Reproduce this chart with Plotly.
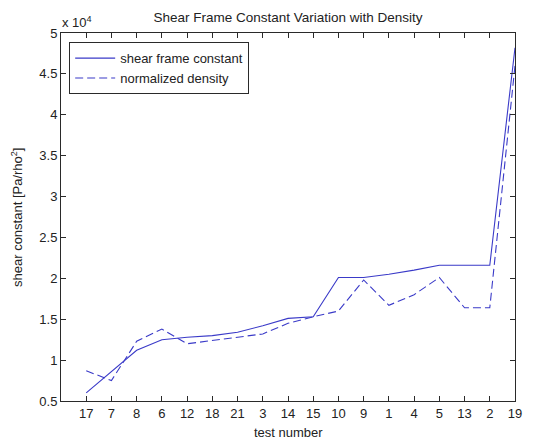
import plotly.graph_objects as go

tests = ["17", "7", "8", "6", "12", "18", "21", "3", "14", "15",
         "10", "9", "1", "4", "5", "13", "2", "19"]
shear_frame_constant = [0.60, 0.86, 1.12, 1.25, 1.28, 1.30, 1.34, 1.42, 1.51, 1.53,
                        2.01, 2.01, 2.05, 2.10, 2.16, 2.16, 2.16, 4.82]
normalized_density = [0.87, 0.75, 1.23, 1.38, 1.20, 1.24, 1.28, 1.32, 1.45, 1.53,
                      1.60, 1.98, 1.67, 1.80, 2.01, 1.64, 1.64, 4.60]
scale = 1e4
y_ticks = [0.5, 1, 1.5, 2, 2.5, 3, 3.5, 4, 4.5, 5]
y_ticktext = ["0.5", "1", "1.5", "2", "2.5", "3", "3.5", "4", "4.5", "5"]

line_color = "#3a3ac8"
axis_color = "#2a2a2a"
text_color = "#222"
font = "Liberation Sans, Arial, sans-serif"
fs = 13

fig = go.Figure()
fig.add_trace(go.Scatter(
    x=tests, y=[v * scale for v in shear_frame_constant], mode="lines",
    name="shear frame constant",
    line=dict(color=line_color, width=1.1)))
fig.add_trace(go.Scatter(
    x=tests, y=[v * scale for v in normalized_density], mode="lines",
    name="normalized density",
    line=dict(color=line_color, width=1.1, dash="8px,4px")))

fig.update_layout(
    width=536, height=439,
    margin=dict(l=61, r=21, t=33, b=38),
    paper_bgcolor="white", plot_bgcolor="white",
    font=dict(family=font, size=fs, color=text_color),
    showlegend=True,
    legend=dict(x=0.018, y=0.975, xanchor="left", yanchor="top",
                bgcolor="white", bordercolor=axis_color, borderwidth=1,
                itemwidth=40,
                font=dict(size=fs, color=text_color), tracegroupgap=0),
    title=dict(text="Shear Frame Constant Variation with Density",
               x=(61 + 515) / 2 / 536, xanchor="center",
               y=1 - 17 / 439, yanchor="middle",
               font=dict(size=13.5, color=text_color, family=font)),
)

fig.update_xaxes(
    type="category", categoryorder="array", categoryarray=tests,
    range=[-1, 17],
    showgrid=False, zeroline=False,
    showline=True, linecolor=axis_color, linewidth=1, mirror="ticks",
    ticks="inside", ticklen=5, tickcolor=axis_color,
    tickfont=dict(size=fs, color=text_color),
)
fig.update_yaxes(
    range=[0.5 * scale, 5 * scale],
    tickvals=[v * scale for v in y_ticks], ticktext=y_ticktext,
    showgrid=False, zeroline=False,
    showline=True, linecolor=axis_color, linewidth=1, mirror="ticks",
    ticks="inside", ticklen=5, tickcolor=axis_color,
    tickfont=dict(size=fs, color=text_color),
)

fig.add_annotation(text="test number", xref="paper", yref="paper",
                   x=0.5, y=0, yshift=-31, xanchor="center", yanchor="middle",
                   showarrow=False, font=dict(size=fs, color=text_color))
fig.add_annotation(text="shear constant [Pa/rho<sup>2</sup>]", xref="paper", yref="paper",
                   x=0, xshift=-44, y=0.5, xanchor="center", yanchor="middle",
                   textangle=-90, showarrow=False, font=dict(size=fs, color=text_color))
fig.add_annotation(text="x 10<sup>4</sup>", xref="paper", yref="paper",
                   x=0, xshift=-1, y=1, yshift=1, xanchor="left", yanchor="bottom",
                   showarrow=False, font=dict(size=fs, color=text_color))

fig.write_html("out.html")
